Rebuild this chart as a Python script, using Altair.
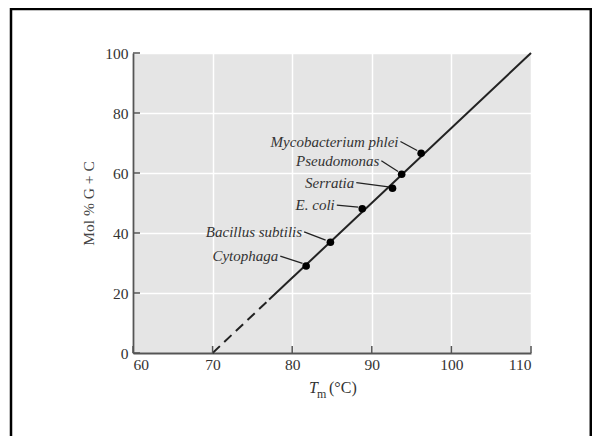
import altair as alt
import pandas as pd

# ---- data ----
names = ["Mycobacterium phlei", "Pseudomonas", "Serratia", "E. coli", "Bacillus subtilis", "Cytophaga"]
tm = [96.2, 93.75, 92.6, 88.8, 84.8, 81.75]
gc = [66.6, 59.6, 54.9, 48.1, 36.9, 29.0]
# leader line start (label end) and end (near point)
lead_tm1 = [93.6, 91.2, 88.05, 85.6, 81.5, 78.5]
lead_gc1 = [70.5, 64.1, 56.8, 49.3, 40.4, 32.3]
lead_tm2 = [95.7, 93.3, 92.1, 88.3, 84.2, 81.3]
lead_gc2 = [67.5, 60.5, 55.4, 48.6, 37.6, 29.9]
# fitted line: dashed extrapolation and solid part
dash_tm = [70, 77.1]
dash_gc = [0, 17.8]
solid_tm = [77.1, 110]
solid_gc = [17.8, 100]
x_ticks = [60, 70, 80, 90, 100, 110]
y_ticks = [0, 20, 40, 60, 80, 100]

W, H = 398, 300
FONT = "Liberation Serif"
AXC = "#555555"

pts = pd.DataFrame({"name": names, "tm": tm, "gc": gc,
                    "x1": lead_tm1, "y1": lead_gc1, "x2": lead_tm2, "y2": lead_gc2})
dash_df = pd.DataFrame({"tm": dash_tm, "gc": dash_gc})
solid_df = pd.DataFrame({"tm": solid_tm, "gc": solid_gc})
xt_df = pd.DataFrame({"v": x_ticks})
yt_df = pd.DataFrame({"v": y_ticks})
one = pd.DataFrame({"a": [0]})

xs = alt.Scale(domain=[60, 110], nice=False, zero=False)
ys = alt.Scale(domain=[0, 100], nice=False)

xaxis = alt.Axis(values=x_ticks, title=None, ticks=False, domainColor=AXC, domainWidth=1.8,
                 grid=True, gridColor="white", gridWidth=1.5, labelFont=FONT, labelFontSize=15.5,
                 labelColor="#333333", labelPadding=4)
yaxis = alt.Axis(values=y_ticks, title="Mol % G + C", ticks=False, domainColor=AXC, domainWidth=1.8,
                 grid=True, gridColor="white", gridWidth=1.5, labelFont=FONT, labelFontSize=15.5,
                 labelColor="#333333", labelPadding=5, titleFont=FONT, titleFontSize=15.5,
                 titleFontWeight="normal", titleColor="#444444", titlePadding=8)

base = alt.Chart(pts)

# outer frame around the figure
border = alt.Chart(one).mark_rect(filled=False, stroke="black", strokeWidth=2.5).encode(
    x=alt.value(-122), x2=alt.value(457.8), y=alt.value(-44), y2=alt.value(420))

dashed = alt.Chart(dash_df).mark_line(color="#222222", strokeWidth=2, strokeDash=[10, 6]).encode(
    x=alt.X("tm:Q", scale=xs, axis=xaxis), y=alt.Y("gc:Q", scale=ys, axis=yaxis))
solid = alt.Chart(solid_df).mark_line(color="#222222", strokeWidth=2).encode(
    x=alt.X("tm:Q", scale=xs), y=alt.Y("gc:Q", scale=ys))

leaders = base.mark_rule(color="#222222", strokeWidth=1.3).encode(
    x=alt.X("x1:Q", scale=xs), y=alt.Y("y1:Q", scale=ys), x2="x2:Q", y2="y2:Q")
points = base.mark_circle(color="black", opacity=1, size=58).encode(
    x=alt.X("tm:Q", scale=xs), y=alt.Y("gc:Q", scale=ys))
labels = base.mark_text(align="right", baseline="middle", dx=-2, font=FONT, fontSize=15,
                        fontStyle="italic", color="#333333").encode(
    x=alt.X("x1:Q", scale=xs), y=alt.Y("y1:Q", scale=ys), text="name:N")

xtick = alt.Chart(xt_df).mark_rule(color=AXC, strokeWidth=1.5).encode(
    x=alt.X("v:Q", scale=xs), y=alt.value(H), y2=alt.value(H - 7))
ytick = alt.Chart(yt_df).mark_rule(color=AXC, strokeWidth=1.5).encode(
    y=alt.Y("v:Q", scale=ys), x=alt.value(0), x2=alt.value(7))

t1 = alt.Chart(one).mark_text(text="T", align="left", baseline="alphabetic", font=FONT,
                              fontSize=16, fontStyle="italic", color="#333333").encode(
    x=alt.value(176), y=alt.value(340))
t2 = alt.Chart(one).mark_text(text="m", align="left", baseline="alphabetic", font=FONT,
                              fontSize=12, color="#333333").encode(
    x=alt.value(184), y=alt.value(344.5))
t3 = alt.Chart(one).mark_text(text="(°C)", align="left", baseline="alphabetic", font=FONT,
                              fontSize=16, color="#333333").encode(
    x=alt.value(196), y=alt.value(340))

chart = alt.layer(border, dashed, solid, leaders, points, labels, xtick, ytick, t1, t2, t3).properties(
    width=W, height=H,
    autosize=alt.AutoSizeParams(type="none"),
    padding={"left": 125, "top": 45, "right": 61, "bottom": 83},
    background="white",
).configure_view(fill="#e5e5e5", strokeWidth=0)

chart.save("out.html", embed_options={"renderer": "svg", "actions": False})
